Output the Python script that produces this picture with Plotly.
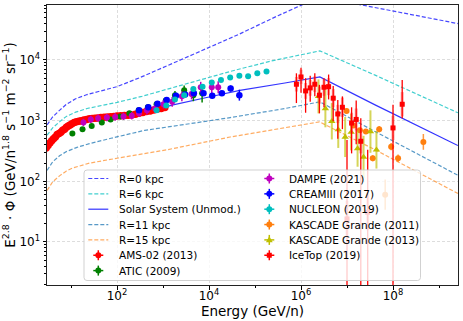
import numpy as np
import plotly.graph_objects as go

# ---------------- model curves: log10 E (GeV/n) and log10 (E^2.8 * flux) ----------------
r0_logE = [0.48, 0.60, 0.75, 0.90, 1.10, 1.35, 1.60, 2.00, 2.50, 3.00, 3.65, 4.67, 5.50, 6.41, 7.28, 8.30, 9.41]
r0_logF = [2.93, 3.06, 3.17, 3.27, 3.36, 3.43, 3.48, 3.56, 3.71, 3.87, 4.09, 4.43, 4.73, 5.04, 4.91, 4.77, 4.60]

r6_logE = [0.48, 0.60, 0.75, 0.90, 1.10, 1.35, 1.60, 2.00, 2.54, 3.50, 4.46, 5.33, 6.41, 7.61, 9.41]
r6_logF = [2.76, 2.88, 2.98, 3.07, 3.14, 3.20, 3.24, 3.30, 3.40, 3.61, 3.81, 3.98, 4.15, 3.75, 3.13]

solar_logE = [0.48, 0.60, 0.75, 0.90, 1.10, 1.35, 1.60, 2.00, 2.50, 3.22, 4.00, 4.67, 5.65, 6.41, 7.61, 9.41]
solar_logF = [2.55, 2.68, 2.80, 2.90, 2.97, 3.01, 3.03, 3.06, 3.12, 3.26, 3.39, 3.50, 3.62, 3.72, 3.26, 2.59]

r11_logE = [0.48, 0.60, 0.75, 0.90, 1.13, 1.40, 1.87, 2.60, 3.50, 4.46, 5.65, 6.41, 7.61, 9.41]
r11_logF = [2.18, 2.32, 2.42, 2.49, 2.56, 2.62, 2.71, 2.84, 2.94, 3.05, 3.20, 3.31, 2.82, 2.10]

r15_logE = [0.48, 0.60, 0.75, 0.90, 1.04, 1.40, 2.00, 3.09, 4.46, 5.65, 6.40, 7.61, 9.41]
r15_logF = [1.85, 1.99, 2.09, 2.17, 2.22, 2.30, 2.38, 2.52, 2.73, 2.88, 2.98, 2.52, 1.80]

# ---------------- measurements ----------------
ams_logE = [0.46, 0.50, 0.54, 0.58, 0.62, 0.66, 0.70, 0.74, 0.78, 0.82, 0.86, 0.90, 0.94, 0.98, 1.02,
            1.07, 1.12, 1.17, 1.22, 1.28, 1.34, 1.40, 1.46, 1.52, 1.58, 1.65, 1.72, 1.79, 1.86, 1.93,
            2.00, 2.08, 2.16, 2.24, 2.32, 2.40, 2.48, 2.56, 2.64, 2.72, 2.80, 2.88, 2.96, 3.04]
ams_logF = [2.55, 2.59, 2.63, 2.67, 2.70, 2.73, 2.77, 2.79, 2.81, 2.84, 2.86, 2.89, 2.91, 2.93, 2.95,
            2.97, 2.98, 2.99, 3.00, 3.01, 3.02, 3.03, 3.035, 3.04, 3.045, 3.05, 3.055, 3.06, 3.065, 3.07,
            3.075, 3.08, 3.083, 3.088, 3.095, 3.105, 3.12, 3.135, 3.15, 3.16, 3.175, 3.19, 3.20, 3.215]

atic_logE = [1.03, 1.25, 1.45, 1.67, 1.86, 2.07, 2.27, 2.47, 2.67, 2.86, 3.06, 3.26, 3.46, 3.66, 3.85]
atic_logF = [2.79, 2.86, 2.91, 2.97, 3.02, 3.07, 3.12, 3.17, 3.22, 3.27, 3.33, 3.42, 3.50, 3.42, 3.45]
atic_err = [0.02, 0.02, 0.02, 0.02, 0.02, 0.02, 0.02, 0.03, 0.03, 0.04, 0.05, 0.07, 0.08, 0.10, 0.15]

dampe_logE = [1.27, 1.43, 1.59, 1.78, 1.96, 2.14, 2.32, 2.48, 2.65, 2.83, 3.01, 3.20, 3.41, 3.62, 3.82, 4.06, 4.20]
dampe_logF = [2.97, 3.02, 3.04, 3.05, 3.06, 3.07, 3.08, 3.12, 3.17, 3.20, 3.27, 3.31, 3.40, 3.44, 3.55, 3.55, 3.55]
dampe_err = [0.06, 0.06, 0.06, 0.06, 0.06, 0.06, 0.06, 0.06, 0.07, 0.07, 0.07, 0.08, 0.08, 0.09, 0.09, 0.10, 0.10]

cream_logE = [2.48, 2.68, 2.88, 3.08, 3.28, 3.48, 3.67, 3.88, 4.07, 4.28, 4.47, 4.66]
cream_logF = [3.17, 3.22, 3.28, 3.34, 3.41, 3.43, 3.45, 3.45, 3.41, 3.45, 3.53, 3.42]
cream_err = [0.02, 0.02, 0.02, 0.02, 0.02, 0.03, 0.03, 0.03, 0.04, 0.04, 0.05, 0.09]

nucleon_logE = [2.86, 3.07, 3.26, 3.46, 3.66, 3.86, 4.06, 4.26, 4.46, 4.66, 4.85, 5.05, 5.25]
nucleon_logF = [3.17, 3.25, 3.35, 3.42, 3.52, 3.56, 3.63, 3.67, 3.71, 3.74, 3.73, 3.78, 3.81]
nucleon_err = [0.01, 0.01, 0.01, 0.01, 0.01, 0.01, 0.01, 0.02, 0.02, 0.02, 0.02, 0.03, 0.03]

kg11_logE = [6.99, 7.14, 7.28, 7.41, 7.56, 7.70, 7.83, 7.96, 8.11, 8.66]
kg11_logF = [3.16, 2.92, 2.84, 2.82, 2.38, 2.86, 1.78, 2.57, 2.38, 2.65]
kg11_err = [0.04, 0.04, 0.04, 0.04, 0.05, 0.05, 0.25, 0.06, 0.06, 0.13]

kg13_logE = [6.38, 6.53, 6.67, 6.81, 6.96, 7.09, 7.23, 7.36, 7.51, 7.64]
kg13_logF = [3.40, 3.20, 2.99, 2.85, 2.73, 2.81, 2.54, 2.40, 2.82, 2.52]
kg13_err = [0.28, 0.31, 0.30, 0.30, 0.33, 0.30, 0.30, 0.35, 0.35, 0.31]

ice_logE = [5.90, 6.00, 6.10, 6.20, 6.30, 6.40, 6.50, 6.60, 6.70, 6.80, 6.90, 7.00, 7.10, 7.20, 7.30, 7.45, 8.00, 8.20]
ice_logF = [3.60, 3.72, 3.49, 3.54, 3.60, 3.42, 3.55, 3.56, 3.37, 3.11, 3.22, 1.38, 2.96, 3.02, 2.66, 1.49, 2.88, 3.27]
ice_err_up = [0.18, 0.15, 0.21, 0.20, 0.18, 0.17, 0.15, 0.20, 0.20, 0.23, 0.18, 1.30, 0.26, 0.31, 0.38, 1.03, 0.38, 0.40]
ice_err_dn = [0.31, 0.26, 0.36, 0.23, 0.20, 0.30, 0.33, 0.21, 0.38, 0.41, 0.36, 5.00, 0.50, 0.41, 5.00, 5.00, 5.00, 0.23]
ice_sys = [0.12, 0.12, 0.13, 0.13, 0.13, 0.14, 0.14, 0.14, 0.15, 0.15, 0.16, 0.30, 0.17, 0.18, 0.20, 0.30, 0.20, 0.20]
ice_binhalf = [0.05] * len(ice_logE)

legend_col1 = ["R=0 kpc", "R=6 kpc", "Solar System (Unmod.)", "R=11 kpc", "R=15 kpc", "AMS-02 (2013)", "ATIC (2009)"]
legend_col2 = ["DAMPE (2021)", "CREAMIII (2017)", "NUCLEON (2019)", "KASCADE Grande (2011)",
               "KASCADE Grande (2013)", "IceTop (2019)"]

xtick_vals = [1e2, 1e4, 1e6, 1e8]
xtick_text = ["10<sup>2</sup>", "10<sup>4</sup>", "10<sup>6</sup>", "10<sup>8</sup>"]
ytick_vals = [1e1, 1e2, 1e3, 1e4]
ytick_text = ["10<sup>1</sup>", "10<sup>2</sup>", "10<sup>3</sup>", "10<sup>4</sup>"]

# ---------------- styles ----------------
FONT = "DejaVu Sans"
C_R0 = "rgba(0,0,255,0.72)"
C_R6 = "rgba(0,191,191,0.75)"
C_SOL = "rgba(0,0,255,0.8)"
C_R11 = "rgba(31,119,180,0.75)"
C_R15 = "rgba(255,127,14,0.65)"
C_AMS = "#ff0000"
C_ATIC = "#008000"
C_DAMPE = "#bf00bf"
C_CREAM = "#0000ff"
C_NUC = "#00bfbf"
C_KG11 = "#ff7f0e"
C_KG13 = "#bfbf00"
C_ICE = "#ff0000"
DASH = "4px,2px"


def lin(v):
    return 10.0 ** np.asarray(v, dtype=float)


def err_pm(logF, up, dn):
    f = lin(logF)
    up = np.asarray(up, dtype=float)
    dn = np.asarray(dn, dtype=float)
    return f * (10 ** up - 1.0), f * (1.0 - 10 ** (-dn))


fig = go.Figure()

models = [
    ("R=0 kpc", r0_logE, r0_logF, C_R0, DASH),
    ("R=6 kpc", r6_logE, r6_logF, C_R6, DASH),
    ("Solar System (Unmod.)", solar_logE, solar_logF, C_SOL, "solid"),
    ("R=11 kpc", r11_logE, r11_logF, C_R11, DASH),
    ("R=15 kpc", r15_logE, r15_logF, C_R15, DASH),
]
for name, lx, ly, col, dash in models:
    fig.add_trace(go.Scatter(x=lin(lx), y=lin(ly), mode="lines", name=name,
                             line=dict(color=col, width=1.2, dash=dash),
                             showlegend=False, hoverinfo="skip"))


def add_data(name, lx, ly, up, dn, color, symbol="circle", size=6, ecolor=None, ethick=1.5):
    p, m = err_pm(ly, up, dn)
    fig.add_trace(go.Scatter(
        x=lin(lx), y=lin(ly), mode="markers", name=name,
        marker=dict(color=color, size=size, symbol=symbol, line=dict(width=0)),
        error_y=dict(type="data", symmetric=False, array=p, arrayminus=m,
                     color=ecolor or color, thickness=ethick, width=0),
        showlegend=False))


add_data("AMS-02 (2013)", ams_logE, ams_logF, [0.01] * len(ams_logE), [0.01] * len(ams_logE), C_AMS, size=7.5)
add_data("ATIC (2009)", atic_logE, atic_logF, atic_err, atic_err, C_ATIC, size=6)
add_data("DAMPE (2021)", dampe_logE, dampe_logF, dampe_err, dampe_err, C_DAMPE, size=6)
add_data("CREAMIII (2017)", cream_logE, cream_logF, cream_err, cream_err, C_CREAM, size=6.5)
add_data("NUCLEON (2019)", nucleon_logE, nucleon_logF, nucleon_err, nucleon_err, C_NUC, size=6)
add_data("KASCADE Grande (2011)", kg11_logE, kg11_logF, kg11_err, kg11_err, C_KG11, size=6,
         ecolor="rgba(255,127,14,0.8)")
add_data("KASCADE Grande (2013)", kg13_logE, kg13_logF, kg13_err, kg13_err, C_KG13,
         symbol="triangle-up", size=6.5, ecolor="rgba(191,191,0,0.65)", ethick=2)

# IceTop: wide translucent systematic bars + bin widths, then statistical bars and markers
sp, sm = err_pm(ice_logF, ice_sys, ice_sys)
bx = lin(ice_logE)
xp = bx * (10 ** np.asarray(ice_binhalf) - 1.0)
xm = bx * (1.0 - 10 ** (-np.asarray(ice_binhalf)))
fig.add_trace(go.Scatter(
    x=bx, y=lin(ice_logF), mode="markers", name="IceTop (2019) sys",
    marker=dict(color="rgba(0,0,0,0)", size=1),
    error_y=dict(type="data", symmetric=False, array=sp, arrayminus=sm,
                 color="rgba(255,60,60,0.45)", thickness=3, width=0),
    error_x=dict(type="data", symmetric=False, array=xp, arrayminus=xm,
                 color="rgba(255,60,60,0.45)", thickness=3, width=0),
    showlegend=False, hoverinfo="skip"))
add_data("IceTop (2019)", ice_logE, ice_logF, ice_err_up, ice_err_dn, C_ICE, symbol="square", size=5,
         ethick=1.3)

# ---------------- axes ----------------
axis_common = dict(
    type="log", ticks="outside", ticklen=3.5, tickwidth=0.8, tickcolor="black",
    showline=True, linecolor="#222222", linewidth=1, mirror=True,
    showgrid=True, gridcolor="#dddddd", gridwidth=0.8, griddash="3px,2px",
    zeroline=False, tickfont=dict(family=FONT, size=12, color="black"),
    automargin=False,
)
x_minor = [10.0 ** k for k in (1, 3, 5, 7, 9)]
y_minor = [m * 10.0 ** k for k in range(0, 5) for m in range(2, 10)]

fig.update_xaxes(
    **axis_common, range=[0.478, 9.413], tickmode="array", tickvals=xtick_vals, ticktext=xtick_text,
    ticklabelstandoff=-4,
    minor=dict(tickmode="array", tickvals=x_minor, ticks="outside", ticklen=2, tickwidth=0.6,
               tickcolor="black", showgrid=False),
    title=dict(text="Energy (GeV/n)", font=dict(family=FONT, size=13.5, color="black"), standoff=3),
)
fig.update_yaxes(
    **axis_common, range=[0.291, 4.906], tickmode="array", tickvals=ytick_vals, ticktext=ytick_text,
    minor=dict(tickmode="array", tickvals=y_minor, ticks="outside", ticklen=2, tickwidth=0.6,
               tickcolor="black", showgrid=False),
    title=dict(text="E<sup>2.8</sup> · Φ (GeV/n<sup>1.8</sup> s<sup>−1</sup> m<sup>−2</sup> sr<sup>−1</sup>)",
               font=dict(family=FONT, size=13.5, color="black"), standoff=6),
)

# ---------------- manual two-column legend (matplotlib style) ----------------
W, H = 463, 321
ML, MR, MT, MB = 47, 5, 5, 36
PW, PH = W - ML - MR, H - MT - MB


def px2x(px):
    return (px - ML) / PW


def px2y(py):
    return (MT + PH - py) / PH


shapes = []
annotations = []

# legend frame with rounded corners
bx0, bx1, by0, by1, rad = 84.0, 420.5, 170.0, 280.5, 3.0
p = (f"M {px2x(bx0 + rad)},{px2y(by0)} L {px2x(bx1 - rad)},{px2y(by0)} "
     f"Q {px2x(bx1)},{px2y(by0)} {px2x(bx1)},{px2y(by0 + rad)} "
     f"L {px2x(bx1)},{px2y(by1 - rad)} Q {px2x(bx1)},{px2y(by1)} {px2x(bx1 - rad)},{px2y(by1)} "
     f"L {px2x(bx0 + rad)},{px2y(by1)} Q {px2x(bx0)},{px2y(by1)} {px2x(bx0)},{px2y(by1 - rad)} "
     f"L {px2x(bx0)},{px2y(by0 + rad)} Q {px2x(bx0)},{px2y(by0)} {px2x(bx0 + rad)},{px2y(by0)} Z")
shapes.append(dict(type="path", path=p, xref="paper", yref="paper", layer="above",
                   fillcolor="rgba(255,255,255,0.8)", line=dict(color="rgba(204,204,204,0.9)", width=1)))

ROW0, ROWSTEP = 178.5, 15.35
COL_HANDLE = [98.3, 269.3]
COL_TEXT = [117.3, 287.3]


def handle_line(cx, cy, color, dash):
    shapes.append(dict(type="line", xref="paper", yref="paper", layer="above",
                       x0=px2x(cx - 10), x1=px2x(cx + 10), y0=px2y(cy), y1=px2y(cy),
                       line=dict(color=color, width=1.2, dash=dash if dash != "solid" else None)))


def handle_marker(cx, cy, color, kind="circle", r=3.0):
    for (x0, y0, x1, y1) in [(cx - 5, cy, cx + 5, cy), (cx, cy - 5, cx, cy + 5)]:
        shapes.append(dict(type="line", xref="paper", yref="paper", layer="above",
                           x0=px2x(x0), x1=px2x(x1), y0=px2y(y0), y1=px2y(y1),
                           line=dict(color=color, width=1.5)))
    if kind == "circle":
        shapes.append(dict(type="circle", xref="paper", yref="paper", layer="above",
                           x0=px2x(cx - r), x1=px2x(cx + r), y0=px2y(cy + r), y1=px2y(cy - r),
                           fillcolor=color, line=dict(width=0)))
    elif kind == "square":
        shapes.append(dict(type="rect", xref="paper", yref="paper", layer="above",
                           x0=px2x(cx - 2.5), x1=px2x(cx + 2.5), y0=px2y(cy + 2.5), y1=px2y(cy - 2.5),
                           fillcolor=color, line=dict(width=0)))
    else:
        tp = (f"M {px2x(cx)},{px2y(cy - 3.6)} L {px2x(cx + 3.4)},{px2y(cy + 2.4)} "
              f"L {px2x(cx - 3.4)},{px2y(cy + 2.4)} Z")
        shapes.append(dict(type="path", path=tp, xref="paper", yref="paper", layer="above",
                           fillcolor=color, line=dict(width=0)))


col1_handles = [("line", C_R0, DASH), ("line", C_R6, DASH), ("line", C_SOL, "solid"),
                ("line", C_R11, DASH), ("line", C_R15, DASH),
                ("marker", C_AMS, "circle"), ("marker", C_ATIC, "circle")]
col2_handles = [("marker", C_DAMPE, "circle"), ("marker", C_CREAM, "circle"), ("marker", C_NUC, "circle"),
                ("marker", C_KG11, "circle"), ("marker", C_KG13, "triangle"), ("marker", C_ICE, "square")]

for col, (labels, handles) in enumerate([(legend_col1, col1_handles), (legend_col2, col2_handles)]):
    for i, (lab, h) in enumerate(zip(labels, handles)):
        cy = ROW0 + i * ROWSTEP
        if h[0] == "line":
            handle_line(COL_HANDLE[col], cy, h[1], h[2])
        else:
            handle_marker(COL_HANDLE[col], cy, h[1], h[2])
        annotations.append(dict(text=lab, xref="paper", yref="paper", x=px2x(COL_TEXT[col]), y=px2y(cy),
                                xanchor="left", yanchor="middle", showarrow=False,
                                font=dict(family=FONT, size=10.5, color="black")))

fig.update_layout(
    width=W, height=H, autosize=False,
    margin=dict(l=ML, r=MR, t=MT, b=MB, pad=0),
    paper_bgcolor="white", plot_bgcolor="white",
    font=dict(family=FONT, size=12, color="black"),
    showlegend=False, shapes=shapes, annotations=annotations,
)

fig.write_html("out.html", config={"displayModeBar": False},
               post_script="document.body.style.margin='0px';")
